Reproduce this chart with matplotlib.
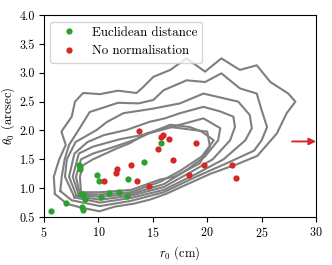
import matplotlib
matplotlib.use('Agg')
import matplotlib.pyplot as plt

plt.rcParams['font.family'] = 'serif'
plt.rcParams['font.serif'] = ['cmr10']
plt.rcParams['mathtext.fontset'] = 'cm'
plt.rcParams['axes.formatter.use_mathtext'] = True
plt.rcParams['font.size'] = 9

# density contours (outer -> inner)
contour0 = [(6.0, 0.9), (7.1, 0.73), (8.5, 0.66), (10.1, 0.6), (11.5, 0.68), (13.2, 0.73),
            (14.7, 0.8), (16.2, 0.9), (19.0, 1.14), (20.3, 1.25), (22.8, 1.42), (24.6, 1.56),
            (26.4, 1.95), (27.3, 2.3), (28.1, 2.5), (27.45, 2.64), (25.8, 2.84), (24.55, 3.13),
            (23.0, 3.05), (21.3, 3.25), (19.8, 3.02), (18.1, 3.25), (16.6, 3.05), (15.05, 2.93),
            (14.1, 2.75), (13.5, 2.65), (11.8, 2.69), (10.15, 2.63), (8.6, 2.65), (7.85, 2.5),
            (7.55, 2.24), (6.6, 1.98), (7.0, 1.75), (6.4, 1.5), (5.9, 1.2), (6.0, 0.9)]
contour1 = [(6.5, 0.95), (7.55, 0.79), (10.15, 0.69), (13.0, 0.78), (16.0, 0.93), (19.0, 1.2),
            (22.0, 1.45), (24.3, 1.65), (25.0, 1.83), (25.5, 2.06), (25.0, 2.35), (24.55, 2.64),
            (23.0, 2.73), (21.3, 2.99), (19.8, 2.84), (18.1, 2.87), (17.5, 2.82), (16.0, 2.7),
            (15.05, 2.53), (13.7, 2.47), (11.8, 2.48), (9.2, 2.32), (8.15, 2.0), (7.3, 1.75),
            (6.9, 1.5), (6.63, 1.2), (6.5, 0.95)]
contour2 = [(7.8, 0.84), (10.15, 0.75), (13.0, 0.83), (16.0, 0.97), (19.0, 1.25), (21.5, 1.5),
            (23.5, 1.83), (24.1, 2.04), (23.9, 2.27), (22.85, 2.5), (19.65, 2.64), (17.5, 2.47),
            (15.05, 2.38), (12.3, 2.3), (10.8, 2.15), (9.85, 2.01), (7.9, 1.8), (7.1, 1.5),
            (6.93, 1.2), (7.8, 0.84)]
contour3 = [(8.0, 0.86), (10.15, 0.8), (13.0, 0.87), (16.0, 1.02), (18.5, 1.28), (20.5, 1.5),
            (22.1, 1.83), (22.55, 2.06), (22.4, 2.24), (21.2, 2.33), (19.65, 2.41), (17.5, 2.3),
            (16.1, 2.21), (14.7, 2.15), (12.6, 2.01), (10.5, 1.92), (9.0, 1.8), (7.8, 1.6),
            (7.3, 1.2), (8.0, 0.86)]
contour4 = [(8.2, 0.88), (10.15, 0.85), (13.0, 0.9), (16.0, 1.07), (18.0, 1.3), (19.8, 1.55),
            (21.0, 1.83), (21.2, 2.04), (19.65, 2.21), (17.5, 2.1), (15.8, 2.01), (14.0, 1.92),
            (12.0, 1.85), (9.5, 1.72), (8.2, 1.6), (7.64, 1.2), (8.2, 0.88)]
contour5 = [(8.3, 0.9), (10.15, 0.89), (13.0, 0.93), (15.66, 1.11), (17.5, 1.3), (19.5, 1.55),
            (20.6, 1.83), (19.5, 1.98), (18.4, 2.06), (16.6, 2.1), (15.0, 1.98), (13.5, 1.85),
            (11.5, 1.72), (9.5, 1.6), (8.4, 1.5), (7.94, 1.2), (8.3, 0.9)]
contour6 = [(8.4, 0.93), (10.15, 0.93), (13.0, 0.97), (15.66, 1.15), (17.0, 1.2), (19.3, 1.43),
            (20.25, 1.72), (20.0, 1.98), (16.6, 2.06), (14.4, 1.95), (12.9, 1.78), (11.7, 1.69),
            (9.5, 1.5), (8.6, 1.4), (8.3, 1.2), (8.4, 0.93)]
contours = [contour0, contour1, contour2, contour3, contour4, contour5, contour6]

# Euclidean distance results
eucl_r0 = [8.25, 8.3, 9.9, 10.08, 12.69, 14.19, 15.78, 8.43, 8.61, 8.77, 10.27, 11.0,
           11.89, 12.63, 7.02, 8.49, 8.61, 5.64]
eucl_theta0 = [1.4, 1.33, 1.23, 1.13, 1.16, 1.45, 1.79, 0.9, 0.9, 0.81, 0.85, 0.92,
               0.93, 0.87, 0.75, 0.67, 0.62, 0.6]

# no normalisation results
nonorm_r0 = [13.73, 15.72, 15.97, 16.5, 15.48, 18.94, 13.0, 16.9, 19.68, 22.25, 22.62,
             18.33, 13.52, 14.68, 11.68, 11.62, 10.55]
nonorm_theta0 = [1.99, 1.88, 1.93, 1.86, 1.68, 1.78, 1.41, 1.48, 1.41, 1.41, 1.18,
                 1.23, 1.12, 1.04, 1.33, 1.27, 1.12]

# outlier off the right edge
arrow_theta0 = 1.81

fig = plt.figure(figsize=(3.32, 2.65), dpi=100)
ax = fig.add_axes([0.1325, 0.181, 0.8195, 0.762])

for c in contours:
    xs = [p[0] for p in c]
    ys = [p[1] for p in c]
    ax.plot(xs, ys, color='#7f7f7f', lw=1.5, zorder=1)

ax.plot(eucl_r0, eucl_theta0, 'o', color='#2ca02c', ms=4.5, mew=0,
        label='Euclidean distance', zorder=3)
ax.plot(nonorm_r0, nonorm_theta0, 'o', color='#d62728', ms=4.5, mew=0,
        label='No normalisation', zorder=3)

ax.annotate('', xy=(30, arrow_theta0), xytext=(27.8, arrow_theta0),
            arrowprops=dict(arrowstyle='-|>', color='#d62728', lw=1.4,
                            mutation_scale=10, shrinkA=0, shrinkB=0))

ax.set_xlim(5, 30)
ax.set_ylim(0.5, 4.0)
ax.set_xticks([5, 10, 15, 20, 25, 30])
ax.set_yticks([0.5, 1.0, 1.5, 2.0, 2.5, 3.0, 3.5, 4.0])
ax.set_yticklabels(['0.5', '1.0', '1.5', '2.0', '2.5', '3.0', '3.5', '4.0'])
ax.set_xlabel(r'$r_0$ (cm)', labelpad=3)
ax.set_ylabel(r'$\theta_0$ (arcsec)', labelpad=2)
ax.tick_params(direction='out', length=3.5, width=0.8, labelsize=8.7, pad=3)

ax.legend(loc='upper left', fontsize=9.3)

fig.savefig('out.png', dpi=100)
